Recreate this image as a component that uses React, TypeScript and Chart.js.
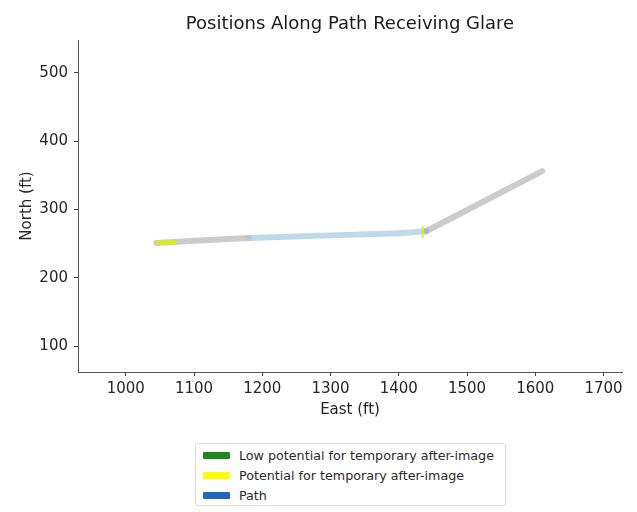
import React, { useEffect, useRef } from "react";
import { Chart, registerables } from "chart.js";

Chart.register(...registerables);

// ---- data ----
const chartTitle = "Positions Along Path Receiving Glare";
const xAxisTitle = "East (ft)";
const yAxisTitle = "North (ft)";
const xTicks = [1000, 1100, 1200, 1300, 1400, 1500, 1600, 1700];
const yTicks = [100, 200, 300, 400, 500];
const xRange = [930, 1727];
const yRange = [62, 548];

// path vertices (East, North)
const pathEast = [1045, 1100, 1180, 1300, 1400, 1440, 1610];
const pathNorth = [251, 254, 258, 262, 265, 268, 356];
// portion of path shown in blue tone (East range)
const pathBlueSpan = [1170, 1430];

// potential for temporary after-image (yellow)
const glareEast = [1044, 1074];
const glareNorth = [251, 252];
const glareMarkEast = [1435];
const glareMarkNorth = [267];

// low potential (green) – no positions
const lowGlareEast: number[] = [];
const lowGlareNorth: number[] = [];

const legendLabels = [
  "Low potential for temporary after-image",
  "Potential for temporary after-image",
  "Path",
];

const FONT = "'DejaVu Sans', 'Liberation Sans', sans-serif";
const GREEN = "#228b22";
const YELLOW = "#dcee10";
const legendColors = ["#1e8a1e", "#ffff00", "#1f6ab8"];

const zip = (xs: number[], ys: number[]) => xs.map((x, i) => ({ x, y: ys[i] }));

const plotTitlePlugin = {
  id: "plotTitle",
  afterDraw(chart: any) {
    const { ctx, chartArea } = chart;
    ctx.save();
    ctx.font = `18px ${FONT}`;
    ctx.fillStyle = "#1a1a1a";
    ctx.textAlign = "center";
    ctx.textBaseline = "middle";
    ctx.fillText(chartTitle, (chartArea.left + chartArea.right) / 2, 24);
    ctx.restore();
  },
};

export default function App() {
  const ref = useRef<HTMLCanvasElement>(null);

  useEffect(() => {
    if (!ref.current) return;
    const tickFont = { family: FONT, size: 15 };
    const chart = new Chart(ref.current, {
      type: "scatter",
      plugins: [plotTitlePlugin],
      data: {
        datasets: [
          {
            label: legendLabels[1],
            data: zip(glareEast, glareNorth),
            showLine: true,
            borderColor: YELLOW,
            borderWidth: 4,
            pointRadius: 0,
            order: 0,
          },
          {
            label: legendLabels[1] + " marker",
            data: zip(glareMarkEast, glareMarkNorth),
            showLine: false,
            pointStyle: "line",
            rotation: 90,
            pointRadius: 6,
            borderColor: YELLOW,
            backgroundColor: YELLOW,
            pointBorderWidth: 2,
            order: 0,
          } as any,
          {
            label: legendLabels[0],
            data: zip(lowGlareEast, lowGlareNorth),
            showLine: true,
            borderColor: GREEN,
            borderWidth: 4,
            pointRadius: 0,
            order: 1,
          },
          {
            label: legendLabels[2],
            data: zip(pathEast, pathNorth),
            showLine: true,
            borderWidth: 6,
            borderCapStyle: "round",
            borderJoinStyle: "round",
            pointRadius: 0,
            borderColor: "#c4c4c4",
            order: 2,
            segment: {
              borderColor: (ctx: any) => {
                const a = ctx.p0.parsed.x;
                const b = ctx.p1.parsed.x;
                return a >= pathBlueSpan[0] && b <= pathBlueSpan[1] + 15
                  ? "rgba(170,204,228,0.75)"
                  : "rgba(160,160,160,0.55)";
              },
            },
          } as any,
        ],
      },
      options: {
        animation: false,
        responsive: false,
        layout: { padding: { left: 0, right: 15, top: 40, bottom: 90 } },
        plugins: {
          legend: { display: false },
          tooltip: { enabled: false },
          title: { display: false },
        },
        scales: {
          x: {
            type: "linear",
            min: xRange[0],
            max: xRange[1],
            afterBuildTicks: (s: any) => {
              s.ticks = xTicks.map((v) => ({ value: v }));
            },
            afterFit: (s: any) => {
              s.height = 50;
            },
            grid: {
              display: true,
              drawOnChartArea: false,
              drawTicks: true,
              tickLength: 4,
              tickColor: "#444",
            },
            border: { display: true, color: "#555", width: 1 },
            ticks: {
              font: tickFont,
              color: "#262626",
              padding: 4,
              maxRotation: 0,
              autoSkip: false,
              callback: (v: any) => String(v),
            },
            title: {
              display: true,
              text: xAxisTitle,
              color: "#262626",
              font: tickFont,
              padding: { top: 0, bottom: 3 },
            },
          },
          y: {
            type: "linear",
            min: yRange[0],
            max: yRange[1],
            afterBuildTicks: (s: any) => {
              s.ticks = yTicks.map((v) => ({ value: v }));
            },
            afterFit: (s: any) => {
              s.width = 78;
            },
            grid: {
              display: true,
              drawOnChartArea: false,
              drawTicks: true,
              tickLength: 4,
              tickColor: "#444",
            },
            border: { display: true, color: "#555", width: 1 },
            ticks: {
              font: tickFont,
              color: "#262626",
              padding: 6,
              autoSkip: false,
              callback: (v: any) => String(v),
            },
            title: {
              display: true,
              text: yAxisTitle,
              color: "#262626",
              font: tickFont,
              padding: { top: 18, bottom: 0 },
            },
          },
        },
      },
    });
    return () => chart.destroy();
  }, []);

  return (
    <div
      style={{
        position: "fixed",
        left: 0,
        top: 0,
        width: 637,
        height: 512,
        background: "#fff",
      }}
    >
      <canvas ref={ref} width={637} height={512} style={{ display: "block" }} />
      <div
        style={{
          position: "absolute",
          left: 195,
          top: 443,
          width: 309,
          height: 60,
          border: "1px solid #dcdcdc",
          borderRadius: 3,
          background: "#fff",
          paddingTop: 1,
          boxSizing: "content-box",
          fontFamily: FONT,
          fontSize: 12.7,
          color: "#2a2a2a",
        }}
      >
        {legendLabels.map((lbl, i) => (
          <div
            key={lbl}
            style={{ height: 20, display: "flex", alignItems: "center", whiteSpace: "nowrap" }}
          >
            <span
              style={{
                display: "inline-block",
                marginLeft: 7,
                width: 27,
                height: 7,
                background: legendColors[i],
                borderRadius: 1,
              }}
            />
            <span style={{ marginLeft: 9 }}>{lbl}</span>
          </div>
        ))}
      </div>
    </div>
  );
}
